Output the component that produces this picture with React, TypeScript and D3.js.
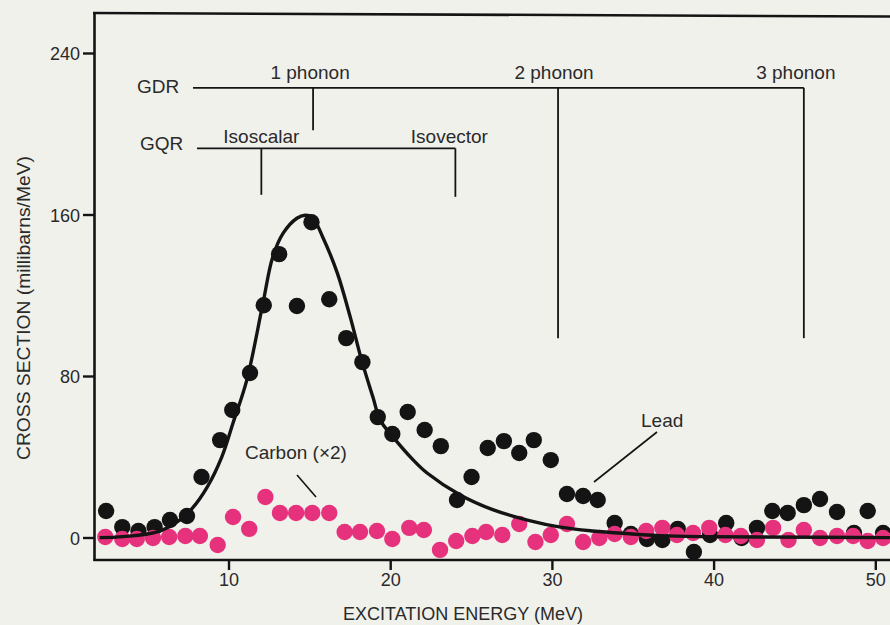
import React from "react";
import * as d3 from "d3";

// ---- data ----
const leadEnergy = [2.4, 3.4, 4.4, 5.4, 6.35, 7.4, 8.3, 9.45, 10.2, 11.3, 12.15, 13.1, 14.2, 15.1, 16.2, 17.25, 18.25, 19.2, 20.1, 21.05, 22.1, 23.1, 24.1, 25.0, 26.0, 27.0, 27.95, 28.85, 29.9, 30.9, 31.9, 32.8, 33.85, 34.85, 35.85, 36.8, 37.75, 38.75, 39.75, 40.75, 41.7, 42.65, 43.6, 44.55, 45.55, 46.55, 47.6, 48.65, 49.5, 50.45];
const leadValue = [13.4, 5.4, 3.5, 5.4, 8.9, 10.9, 30.2, 48.5, 63.4, 81.7, 115.3, 140.6, 114.9, 156.4, 118.3, 99.0, 87.1, 59.9, 51.5, 62.4, 53.5, 45.5, 18.8, 30.2, 44.6, 48.0, 42.1, 48.5, 38.6, 21.8, 20.8, 18.8, 7.4, 2.0, -0.5, -1.0, 4.5, -6.9, 1.5, 7.4, 0.0, 5.0, 13.4, 12.4, 16.3, 19.3, 12.9, 2.5, 13.4, 2.5];

const carbonEnergy = [2.35, 3.4, 4.3, 5.3, 6.3, 7.3, 8.2, 9.3, 10.25, 11.25, 12.25, 13.15, 14.15, 15.15, 16.2, 17.15, 18.1, 19.15, 20.1, 21.15, 22.05, 23.05, 24.05, 25.05, 25.9, 26.9, 27.95, 28.95, 29.9, 30.9, 31.9, 32.9, 33.85, 34.85, 35.8, 36.8, 37.7, 38.7, 39.7, 40.7, 41.65, 42.65, 43.65, 44.6, 45.55, 46.55, 47.6, 48.6, 49.5, 50.45];
const carbonValue = [0.5, -0.5, -0.5, 0.0, 0.5, 1.0, 1.0, -3.5, 10.4, 4.5, 20.3, 12.4, 12.4, 12.4, 12.4, 3.0, 3.0, 3.5, -0.5, 5.0, 4.0, -5.9, -1.5, 1.0, 3.0, 1.5, 6.9, -2.0, 1.5, 6.9, -2.0, 0.0, 2.0, 0.5, 3.5, 5.0, 1.5, 2.5, 5.0, 1.5, 1.0, -1.0, 5.0, -1.0, 4.0, 0.0, 1.0, 1.0, -1.5, 0.0];

const fitEnergy = [2.0, 3.45, 5.55, 6.95, 7.75, 8.65, 9.55, 10.25, 11.1, 12.1, 12.7, 13.35, 14.2, 14.7, 15.15, 15.8, 16.7, 17.5, 18.2, 18.9, 19.35, 20.15, 21.4, 22.25, 24.3, 26.35, 28.45, 30.5, 32.5, 34.6, 36.65, 39.1, 42.8, 51.0];
const fitValue = [0.2, 0.7, 3.0, 8.9, 14.9, 25.2, 40.1, 57.0, 78.2, 116.3, 139.1, 151.0, 158.4, 159.9, 158.9, 149.0, 131.2, 109.4, 88.1, 69.8, 58.4, 50.0, 38.6, 32.2, 21.3, 13.9, 8.9, 5.4, 3.5, 2.2, 1.2, 0.7, 0.5, 0.2];

const xTicks = [10, 20, 30, 40, 50];
const yTicks = [0, 80, 160, 240];

// annotation levels (energy in MeV / cross-section units)
const phononLabels = ["1 phonon", "2 phonon", "3 phonon"];
const phononEnergy = [15.2, 30.35, 45.55];
const phononBottom = [202, 99, 99];
const gqrLabels = ["Isoscalar", "Isovector"];
const gqrEnergy = [12.0, 24.0];
const gqrBottom = [170, 169];
const gdrLevel = 223;
const gqrLevel = 193;

const W = 890;
const H = 625;
const BG = "#f1f1ec";
const INK = "#141414";
const TXT = "#2a2a2a";
const PINK = "#e6317d";
const FONT = "'Liberation Sans', Arial, Helvetica, sans-serif";

export default function App() {
  const x = d3.scaleLinear().domain([0, 50]).range([67.3, 875.8]);
  const y = d3.scaleLinear().domain([0, 240]).range([538, 53.5]);

  const axisLeft = 94.5;
  const axisBottom = 560;
  const axisTop = 14;

  const lead = leadEnergy.map((e, i) => ({ e, v: leadValue[i] }));
  const carbon = carbonEnergy.map((e, i) => ({ e, v: carbonValue[i] }));
  const fit = fitEnergy.map((e, i) => ({ e, v: fitValue[i] }));

  const line = d3
    .line<{ e: number; v: number }>()
    .x((d) => x(d.e))
    .y((d) => y(d.v))
    .curve(d3.curveCatmullRom.alpha(0.5));

  const labelOffsets = [-3, -4, -8];

  return (
    <svg
      width={W}
      height={H}
      style={{ position: "absolute", left: 0, top: 0, display: "block" }}
      fontFamily={FONT}
    >
      <rect x={0} y={0} width={W} height={H} fill={BG} />

      {/* frame */}
      <line x1={93} y1={axisTop - 1} x2={W} y2={axisTop + 2.5} stroke={INK} strokeWidth={2.6} />
      <line x1={axisLeft} y1={axisTop - 2} x2={axisLeft} y2={axisBottom + 1} stroke={INK} strokeWidth={2.6} />
      <line x1={axisLeft - 1} y1={axisBottom} x2={W} y2={axisBottom} stroke={INK} strokeWidth={2.6} />

      {/* y ticks */}
      {yTicks.map((t) => (
        <g key={"y" + t}>
          <line x1={83} x2={axisLeft} y1={y(t)} y2={y(t)} stroke={INK} strokeWidth={2.4} />
          <text x={80} y={y(t) + 6.5} textAnchor="end" fontSize={18} fill={TXT}>
            {t}
          </text>
        </g>
      ))}

      {/* x ticks */}
      {xTicks.map((t) => (
        <g key={"x" + t}>
          <line x1={x(t)} x2={x(t)} y1={axisBottom} y2={axisBottom + 10} stroke={INK} strokeWidth={2.4} />
          <text x={x(t)} y={586} textAnchor="middle" fontSize={18} fill={TXT}>
            {t}
          </text>
        </g>
      ))}

      {/* axis titles */}
      <text x={463} y={620} textAnchor="middle" fontSize={18} fill={TXT}>
        EXCITATION ENERGY (MeV)
      </text>
      <text
        transform={`translate(30, 308) rotate(-90)`}
        textAnchor="middle"
        fontSize={18.5}
        fill={TXT}
        textLength={304}
        lengthAdjust="spacingAndGlyphs"
      >
        CROSS SECTION (millibarns/MeV)
      </text>

      {/* GDR / GQR annotation */}
      <text x={137} y={93} fontSize={19} fill={TXT}>GDR</text>
      <text x={140} y={150} fontSize={19} fill={TXT}>GQR</text>
      <line x1={193} x2={x(phononEnergy[2])} y1={y(gdrLevel)} y2={y(gdrLevel)} stroke={INK} strokeWidth={1.8} />
      {phononEnergy.map((e, i) => (
        <g key={"p" + i}>
          <line x1={x(e)} x2={x(e)} y1={y(gdrLevel)} y2={y(phononBottom[i])} stroke={INK} strokeWidth={1.8} />
          <text x={x(e) + labelOffsets[i]} y={79} textAnchor="middle" fontSize={19} fill={TXT}>
            {phononLabels[i]}
          </text>
        </g>
      ))}
      <line x1={197} x2={x(gqrEnergy[1])} y1={y(gqrLevel)} y2={y(gqrLevel)} stroke={INK} strokeWidth={1.8} />
      {gqrEnergy.map((e, i) => (
        <g key={"q" + i}>
          <line x1={x(e)} x2={x(e)} y1={y(gqrLevel)} y2={y(gqrBottom[i])} stroke={INK} strokeWidth={1.8} />
          <text x={x(e) + (i === 0 ? 0 : -6)} y={143} textAnchor="middle" fontSize={19} fill={TXT}>
            {gqrLabels[i]}
          </text>
        </g>
      ))}

      {/* data */}
      {lead.map((d, i) => (
        <circle key={"l" + i} cx={x(d.e)} cy={y(d.v)} r={8.2} fill={INK} />
      ))}
      {carbon.map((d, i) => (
        <circle key={"c" + i} cx={x(d.e)} cy={y(d.v)} r={8.2} fill={PINK} />
      ))}
      <path d={line(fit) || ""} fill="none" stroke={INK} strokeWidth={3.4} />

      {/* series labels */}
      <text x={245} y={459} fontSize={19} fill={TXT}>Carbon (×2)</text>
      <line x1={297} y1={475} x2={316} y2={497} stroke={INK} strokeWidth={1.6} />
      <text x={641} y={427} fontSize={19} fill={TXT}>Lead</text>
      <line x1={657} y1={432} x2={594} y2={482} stroke={INK} strokeWidth={1.6} />
    </svg>
  );
}
